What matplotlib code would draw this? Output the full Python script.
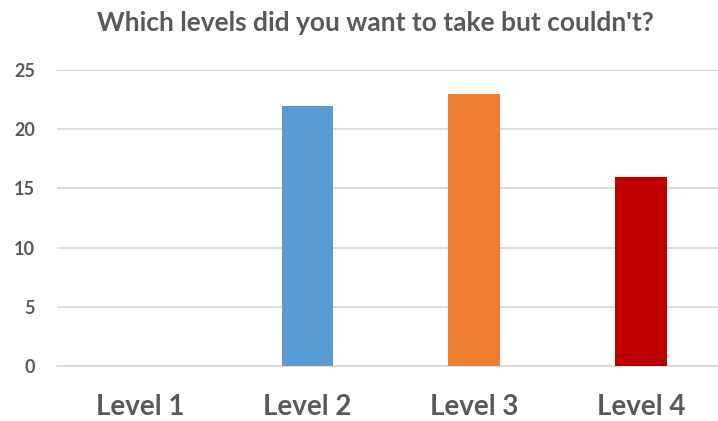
import matplotlib
matplotlib.use("Agg")
import matplotlib.pyplot as plt

categories = ["Level 1", "Level 2", "Level 3", "Level 4"]
values = [0, 22, 23, 16]
colors = ["#5B9BD5", "#5B9BD5", "#ED7D31", "#C00000"]
yticks = [0, 5, 10, 15, 20, 25]
title = "Which levels did you want to take but couldn't?"

plt.rcParams["font.family"] = ["Lato", "DejaVu Sans"]
text_color = "#595959"

fig = plt.figure(figsize=(7.18, 4.21), dpi=100)
ax = fig.add_axes([0.0794, 0.1306, 0.930, 0.7031])

x = list(range(len(categories)))
ax.bar(x, values, width=0.31, color=colors, zorder=3)

ax.set_xlim(-0.5, len(categories) - 0.5)
ax.set_ylim(0, 25)
ax.set_yticks(yticks)
ax.set_yticklabels([str(t) for t in yticks], fontsize=13, fontweight="bold", color=text_color)
ax.set_xticks(x)
ax.set_xticklabels(categories, fontsize=20, fontweight="bold", color=text_color)
ax.tick_params(axis="both", length=0)
ax.tick_params(axis="x", pad=20)
ax.tick_params(axis="y", pad=16)

ax.grid(axis="y", color="#D9D9D9", linewidth=1.3, zorder=0)
for s in ["top", "right", "left"]:
    ax.spines[s].set_visible(False)
ax.spines["bottom"].set_color("#D9D9D9")
ax.spines["bottom"].set_linewidth(1.3)

fig.text(0.523, 0.945, title, ha="center", va="center", fontsize=19,
         fontweight="bold", color=text_color)

fig.savefig("out.png", dpi=100)
